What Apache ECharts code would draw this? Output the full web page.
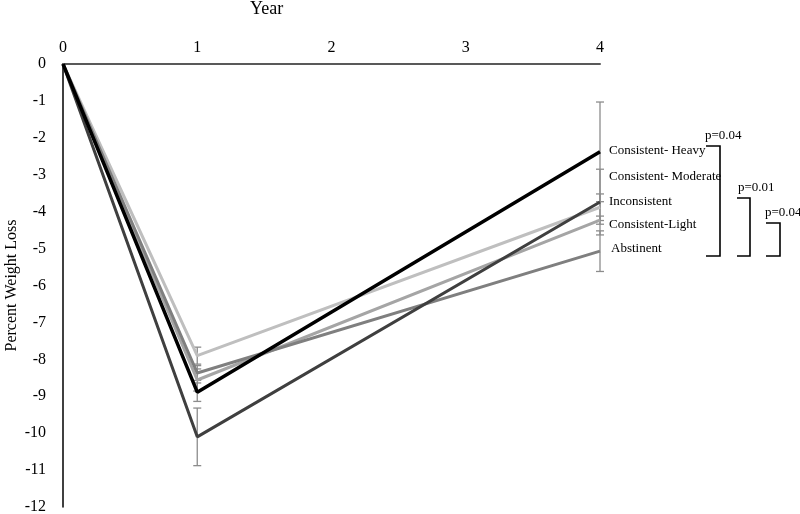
<!DOCTYPE html>
<html>
<head>
<meta charset="utf-8">
<script src="https://cdn.jsdelivr.net/npm/echarts@6/dist/echarts.min.js"></script>
<style>html,body{margin:0;padding:0;background:#fff}#c{width:800px;height:514px}</style>
</head>
<body>
<div id="c"></div>
<script>
const years = [0, 1, 4];
const seriesNames = ['Consistent- Moderate', 'Consistent-Light', 'Abstinent', 'Inconsistent', 'Consistent- Heavy'];
const moderate = [0, -7.9, -3.88];
const light = [0, -8.56, -4.23];
const abstinent = [0, -8.37, -5.07];
const inconsistent = [0, -10.1, -3.74];
const heavy = [0, -8.89, -2.38];
// error half-widths at years 1 and 4
const errModerate = [0.23, 0.36];
const errLight = [0.3, 0.11];
const errAbstinent = [0.2, 0.55];
const errInconsistent = [0.78, 0.89];
const errHeavy = [0.25, 1.35];
const yTicks = [0, -1, -2, -3, -4, -5, -6, -7, -8, -9, -10, -11, -12];
const xTicks = [0, 1, 2, 3, 4];
const endLabels = ['Consistent- Heavy', 'Consistent- Moderate', 'Inconsistent', 'Consistent-Light', 'Abstinent'];
const pLabels = ['p=0.04', 'p=0.01', 'p=0.04'];

const FONT = '"Liberation Serif","Times New Roman",serif';
const colors = ['#bfbfbf', '#a5a5a5', '#7f7f7f', '#3f3f3f', '#000000'];
const widths = [3, 3, 3, 3, 3.5];
const vals = [moderate, light, abstinent, inconsistent, heavy];
const errs = [errModerate, errLight, errAbstinent, errInconsistent, errHeavy];

const errData = [];
vals.forEach((v, i) => {
  [1, 2].forEach((k, j) => {
    errData.push([years[k], v[k] - errs[i][j], v[k] + errs[i][j]]);
  });
});

const chart = echarts.init(document.getElementById('c'), null, {renderer: 'canvas'});

const series = [{
  type: 'custom',
  name: 'err',
  z: 1,
  silent: true,
  data: errData,
  renderItem: function (params, api) {
    const x = api.value(0);
    const lo = api.coord([x, api.value(1)]);
    const hi = api.coord([x, api.value(2)]);
    const w = 4;
    const st = {stroke: '#8c8c8c', lineWidth: 1.3};
    return {
      type: 'group',
      children: [
        {type: 'line', shape: {x1: lo[0], y1: lo[1], x2: hi[0], y2: hi[1]}, style: st},
        {type: 'line', shape: {x1: lo[0] - w, y1: lo[1], x2: lo[0] + w, y2: lo[1]}, style: st},
        {type: 'line', shape: {x1: hi[0] - w, y1: hi[1], x2: hi[0] + w, y2: hi[1]}, style: st}
      ]
    };
  }
}];
vals.forEach((v, i) => {
  series.push({
    type: 'line',
    name: seriesNames[i],
    z: 2 + i,
    data: years.map((y, k) => [y, v[k]]),
    showSymbol: false,
    symbol: 'none',
    lineStyle: {color: colors[i], width: widths[i]},
    itemStyle: {color: colors[i]},
    animation: false
  });
});

const labelYs = [152, 178, 203, 226, 250];
const graphics = [];
endLabels.forEach((t, i) => {
  graphics.push({type: 'text', left: i === 4 ? 611 : 609, top: labelYs[i] - 8,
    style: {text: t, font: '13px ' + FONT, fill: '#000'}});
});
// brackets
const br = [[706, 720, 146, 256], [737, 750, 198, 256], [766, 780, 223, 256]];
const pPos = [[705, 129], [738, 181], [765, 206]];
br.forEach((b, i) => {
  graphics.push({type: 'polyline', shape: {points: [[b[0], b[2]], [b[1], b[2]], [b[1], b[3]], [b[0], b[3]]]},
    style: {stroke: '#000', lineWidth: 1.6, fill: null}});
  graphics.push({type: 'text', left: pPos[i][0], top: pPos[i][1],
    style: {text: pLabels[i], font: '13px ' + FONT, fill: '#000'}});
});
graphics.push({type: 'text', left: 250, top: 0, style: {text: 'Year', font: '18px ' + FONT, fill: '#000'}});

chart.setOption({
  animation: false,
  backgroundColor: '#fff',
  grid: {left: 63, right: 200, top: 64, bottom: 7, containLabel: false, outerBoundsMode: 'none'},
  xAxis: {
    type: 'value', position: 'top', min: 0, max: 4, interval: 1,
    axisLine: {show: true, onZero: false, lineStyle: {color: '#595959', width: 2}},
    axisTick: {show: false},
    splitLine: {show: false},
    axisLabel: {color: '#000', fontFamily: FONT, fontSize: 16, margin: 8}
  },
  yAxis: {
    type: 'value', min: -12, max: 0, interval: 1,
    name: 'Percent Weight Loss', nameLocation: 'middle', nameGap: 43, nameMoveOverlap: false,
    nameTextStyle: {color: '#000', fontFamily: FONT, fontSize: 16},
    axisLine: {show: true, onZero: false, lineStyle: {color: '#000', width: 1.5}},
    axisTick: {show: false},
    splitLine: {show: false},
    axisLabel: {color: '#000', fontFamily: FONT, fontSize: 16, margin: 17}
  },
  graphic: graphics,
  series: series
});
</script>
</body>
</html>
